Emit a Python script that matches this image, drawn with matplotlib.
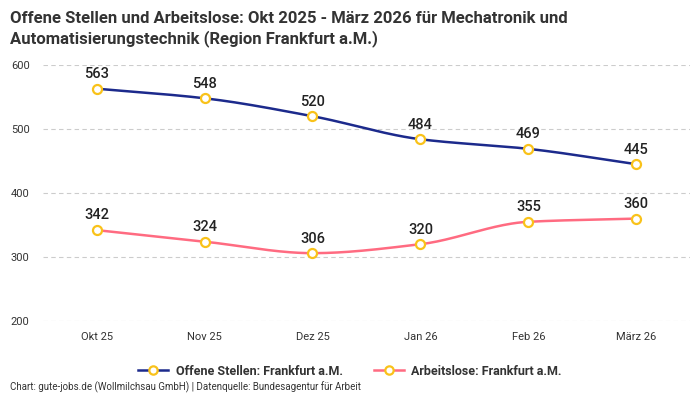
import numpy as np
import matplotlib
matplotlib.use("Agg")
import matplotlib.pyplot as plt
from matplotlib.lines import Line2D

months = ["Okt 25", "Nov 25", "Dez 25", "Jan 26", "Feb 26", "März 26"]
offene_stellen = [563, 548, 520, 484, 469, 445]
arbeitslose = [342, 324, 306, 320, 355, 360]

plt.rcParams["font.family"] = ["Roboto", "DejaVu Sans"]

BLUE = "#1c2a8c"
PINK = "#ff6b81"
YELLOW = "#f9c21a"
TXT = "#333333"


def monotone(x, y, n=40):
    # monotone cubic (Fritsch-Carlson) for a smooth line through the points
    x = np.asarray(x, float)
    y = np.asarray(y, float)
    h = np.diff(x)
    d = np.diff(y) / h
    m = np.zeros_like(y)
    m[0], m[-1] = d[0], d[-1]
    for i in range(1, len(y) - 1):
        if d[i - 1] * d[i] <= 0:
            m[i] = 0
        else:
            w1 = 2 * h[i] + h[i - 1]
            w2 = h[i] + 2 * h[i - 1]
            m[i] = (w1 + w2) / (w1 / d[i - 1] + w2 / d[i])
    xs, ys = [], []
    for i in range(len(x) - 1):
        t = np.linspace(0, 1, n)
        h00 = 2 * t**3 - 3 * t**2 + 1
        h10 = t**3 - 2 * t**2 + t
        h01 = -2 * t**3 + 3 * t**2
        h11 = t**3 - t**2
        xs.append(x[i] + t * h[i])
        ys.append(h00 * y[i] + h10 * h[i] * m[i] + h01 * y[i + 1] + h11 * h[i] * m[i + 1])
    return np.concatenate(xs), np.concatenate(ys)


fig = plt.figure(figsize=(7, 4), dpi=100)
ax = fig.add_axes([0.061, 0.1975, 0.925, 0.64])

xpos = np.arange(len(months))
for vals, col in [(offene_stellen, BLUE), (arbeitslose, PINK)]:
    sx, sy = monotone(xpos, vals)
    ax.plot(sx, sy, color=col, lw=1.8, zorder=3)
    ax.plot(xpos, vals, ls="none", marker="o", ms=6.5, mfc="white",
            mec=YELLOW, mew=1.6, zorder=4)
    for xi, v in zip(xpos, vals):
        ax.annotate(str(v), (xi, v), xytext=(0, 5.5), textcoords="offset points",
                    ha="center", va="bottom", fontsize=10.5, color="#222222",
                    fontweight="medium", zorder=5)

ax.set_xlim(-0.5, len(months) - 0.5)
ax.set_ylim(200, 600)
ax.set_yticks([200, 300, 400, 500, 600])
ax.set_xticks(xpos)
ax.set_xticklabels(months)
ax.tick_params(axis="both", length=0, labelsize=8, labelcolor=TXT)
ax.tick_params(axis="x", pad=8)
for lbl in ax.get_yticklabels():
    lbl.set_horizontalalignment("left")
ax.yaxis.set_tick_params(pad=23)
ax.grid(axis="y", color="#cccccc", ls=(0, (4, 3)), lw=0.8)
for s in ax.spines.values():
    s.set_visible(False)
ax.set_axisbelow(True)

fig.text(0.014, 0.972, "Offene Stellen und Arbeitslose: Okt 2025 - März 2026 für Mechatronik und\n"
         "Automatisierungstechnik (Region Frankfurt a.M.)", ha="left", va="top",
         fontsize=12, fontweight="bold", color=TXT, linespacing=1.3)

handles = [
    Line2D([], [], color=BLUE, lw=1.8, marker="o", ms=6, mfc="white", mec=YELLOW, mew=1.6),
    Line2D([], [], color=PINK, lw=1.8, marker="o", ms=6, mfc="white", mec=YELLOW, mew=1.6),
]
leg = fig.legend(handles, ["Offene Stellen: Frankfurt a.M.", "Arbeitslose: Frankfurt a.M."],
                 loc="center", bbox_to_anchor=(0.5, 0.072), ncol=2, frameon=False,
                 handlelength=2.4, columnspacing=2.5, handletextpad=0.6,
                 prop={"size": 9, "weight": "bold"})
for t in leg.get_texts():
    t.set_color(TXT)

fig.text(0.014, 0.018, "Chart: gute-jobs.de (Wollmilchsau GmbH) | Datenquelle: Bundesagentur für Arbeit",
         ha="left", va="bottom", fontsize=7, color=TXT)

fig.savefig("out.png", dpi=100)
